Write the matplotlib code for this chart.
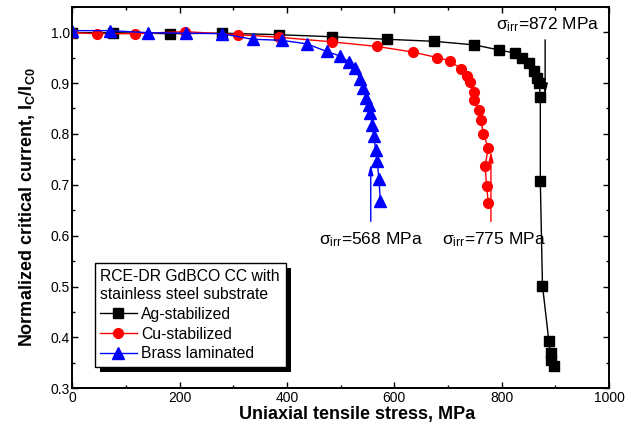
import matplotlib
matplotlib.use("Agg")
import matplotlib.pyplot as plt
from matplotlib.ticker import MultipleLocator
from matplotlib.patches import Rectangle
from matplotlib.transforms import IdentityTransform

plt.rcParams['font.family'] = ['Liberation Sans', 'DejaVu Sans']
plt.rcParams['mathtext.fontset'] = 'custom'
plt.rcParams['mathtext.rm'] = 'Liberation Sans'
plt.rcParams['mathtext.bf'] = 'Liberation Sans:bold'
plt.rcParams['mathtext.default'] = 'regular'

# Ag-stabilized (black squares)
ag_stress = [0, 76, 181, 278, 385, 483, 586, 674, 749, 795, 824, 837, 850,
             860, 865, 870, 872, 872, 876, 888, 891, 891, 898]
ag_ic = [0.999, 0.999, 0.997, 0.998, 0.995, 0.991, 0.986, 0.982, 0.975, 0.965,
         0.959, 0.949, 0.939, 0.923, 0.910, 0.901, 0.872, 0.707, 0.502, 0.392,
         0.369, 0.356, 0.343]

# Cu-stabilized (red circles)
cu_stress = [0, 45, 117, 210, 309, 385, 483, 567, 634, 680, 703, 724, 735,
             741, 749, 749, 757, 761, 766, 775, 769, 772, 775]
cu_ic = [0.999, 0.997, 0.997, 1.001, 0.995, 0.990, 0.981, 0.972, 0.961, 0.950,
         0.944, 0.928, 0.913, 0.903, 0.883, 0.866, 0.847, 0.828, 0.800, 0.772,
         0.737, 0.697, 0.665]

# Brass laminated (blue triangles)
br_stress = [0, 70, 141, 212, 278, 336, 390, 437, 474, 499, 516, 527, 536,
             542, 548, 552, 555, 559, 562, 565, 568, 571, 574]
br_ic = [1.003, 1.003, 0.999, 0.998, 0.997, 0.986, 0.984, 0.977, 0.962, 0.953,
         0.941, 0.929, 0.907, 0.890, 0.871, 0.856, 0.841, 0.818, 0.795, 0.769,
         0.747, 0.712, 0.668]

fig = plt.figure(figsize=(6.42, 4.28), dpi=100)
ax = fig.add_axes([0.1128, 0.0928, 0.8358, 0.8915])

ax.plot(ag_stress, ag_ic, '-s', color='black', lw=1, ms=6.5, label='Ag-stabilized')
ax.plot(cu_stress, cu_ic, '-o', color='red', lw=1, ms=7, label='Cu-stabilized')
ax.plot(br_stress, br_ic, '-^', color='blue', lw=1, ms=8, label='Brass laminated')

# irreversible stress arrows
arrow = "-|>,head_length=0.6,head_width=0.15"
ax.annotate('', xy=(881, 0.878), xytext=(881, 0.985),
            arrowprops=dict(arrowstyle=arrow, color='black', lw=1, shrinkA=0, shrinkB=0))
ax.annotate('', xy=(780, 0.765), xytext=(780, 0.628),
            arrowprops=dict(arrowstyle=arrow, color='red', lw=1, shrinkA=0, shrinkB=0))
ax.annotate('', xy=(556, 0.74), xytext=(556, 0.628),
            arrowprops=dict(arrowstyle=arrow, color='blue', lw=1, shrinkA=0, shrinkB=0))

ax.text(886, 1.014, r'$σ_{irr}$=872 MPa', fontsize=12.5, ha='center', va='center')
ax.text(557, 0.592, r'$σ_{irr}$=568 MPa', fontsize=12.5, ha='center', va='center')
ax.text(786, 0.592, r'$σ_{irr}$=775 MPa', fontsize=12.5, ha='center', va='center')

ax.set_xlim(0, 1000)
ax.set_ylim(0.3, 1.05)
ax.xaxis.set_minor_locator(MultipleLocator(100))
ax.yaxis.set_minor_locator(MultipleLocator(0.05))
ax.set_xticks([0, 200, 400, 600, 800, 1000])
ax.set_yticks([0.3, 0.4, 0.5, 0.6, 0.7, 0.8, 0.9, 1.0])
ax.tick_params(which='both', direction='in', top=True, right=True, labelsize=10, pad=2, width=1)
ax.tick_params(which='major', length=4)
ax.tick_params(which='minor', length=2.5)
for s in ax.spines.values():
    s.set_linewidth(1.4)

ax.set_xlabel('Uniaxial tensile stress, MPa', fontsize=13, fontweight='bold', va='top')
ax.xaxis.set_label_coords(0.531, -0.046)
ax.set_ylabel(r'Normalized critical current, $\mathbf{I_C/I_{C0}}$', fontsize=13, fontweight='bold')
ax.yaxis.set_label_coords(-0.066, 0.475)

leg = ax.legend(title='RCE-DR GdBCO CC with\nstainless steel substrate',
                loc='upper left', bbox_to_anchor=(0.042, 0.328), borderaxespad=0,
                fontsize=11.3, title_fontsize=11.3, alignment='left', fancybox=False,
                framealpha=1, edgecolor='black', handlelength=2.3, handletextpad=0.3,
                labelspacing=0.3, borderpad=0.35)
leg.get_frame().set_linewidth(1)
leg.get_title().set_linespacing(1.3)

# solid black drop shadow, offset a few pixels down-right
fig.canvas.draw()
bb = leg.get_frame().get_window_extent()
ax.add_patch(Rectangle((bb.x0 + 5, bb.y0 - 5), bb.width, bb.height,
                       transform=IdentityTransform(), facecolor='black',
                       edgecolor='none', zorder=4.9, clip_on=False))

fig.savefig('out.png', dpi=100)
